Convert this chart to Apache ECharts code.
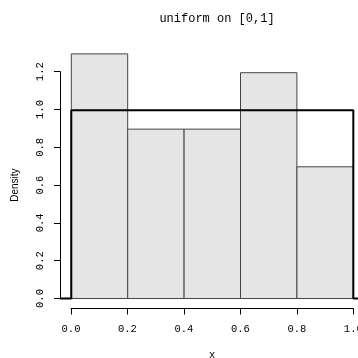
<!DOCTYPE html>
<html>
<head>
<meta charset="utf-8">
<script src="https://cdn.jsdelivr.net/npm/echarts@6/dist/echarts.min.js"></script>
<style>
  html, body { margin: 0; padding: 0; background: #fff; }
  #chart { width: 358px; height: 358px; }
</style>
</head>
<body>
<div id="chart"></div>
<script>
// Histogram bins of the sample (left edge, right edge, density)
const binStarts = [0.0, 0.2, 0.4, 0.6, 0.8];
const binEnds   = [0.2, 0.4, 0.6, 0.8, 1.0];
const densities = [1.3, 0.9, 0.9, 1.2, 0.7];

// Uniform(0,1) density curve, drawn as a step outline
const curveX = [-0.04, 0.0, 0.0, 1.0, 1.0, 1.04];
const curveY = [0, 0, 1, 1, 0, 0];

// Axis tick labels
const xTicks = ['0.0', '0.2', '0.4', '0.6', '0.8', '1.0'];
const yTicks = ['0.0', '0.2', '0.4', '0.6', '0.8', '1.0', '1.2'];

const mono = 'Liberation Mono, DejaVu Sans Mono, monospace';

const histData = binStarts.map((s, i) => [s, binEnds[i], densities[i]]);
const curveData = curveX.map((x, i) => [x, curveY[i]]);

const chart = echarts.init(document.getElementById('chart'), null, { renderer: 'canvas' });

chart.setOption({
  animation: false,
  backgroundColor: '#ffffff',
  title: {
    text: 'uniform on [0,1]',
    left: 212, top: 8, textAlign: 'center',
    textStyle: { fontFamily: mono, fontSize: 12, fontWeight: 'normal', color: '#000' }
  },
  grid: [
    // plotting region (extends past the right edge of the canvas)
    { left: 60, top: 44.1, width: 304.6, height: 264.2, outerBoundsMode: 'none', containLabel: false },
    // x axis, spanning the tick range only
    { left: 71, top: 44.1, width: 282.3, height: 264.4, outerBoundsMode: 'none', containLabel: false },
    // y axis, spanning the tick range only
    { left: 60, top: 71.7, width: 282.3, height: 226.8, outerBoundsMode: 'none', containLabel: false }
  ],
  xAxis: [
    { gridIndex: 0, type: 'value', min: -0.04, max: 1.04, show: false },
    {
      gridIndex: 1, type: 'value', min: 0, max: 1, interval: 0.2,
      name: 'x', nameLocation: 'middle', nameGap: 41,
      nameTextStyle: { fontFamily: mono, fontSize: 10.5, color: '#000' },
      axisLine: { show: true, lineStyle: { color: '#000', width: 1 } },
      axisTick: { show: true, length: 6, lineStyle: { color: '#000', width: 1 } },
      axisLabel: {
        margin: 15, fontFamily: mono, fontSize: 10.5, color: '#000',
        hideOverlap: false, showMaxLabel: true, showMinLabel: true,
        formatter: (v) => xTicks[Math.round(v / 0.2)] ?? ''
      },
      splitLine: { show: false }
    },
    { gridIndex: 2, type: 'value', min: 0, max: 1, show: false }
  ],
  yAxis: [
    { gridIndex: 0, type: 'value', min: -0.052, max: 1.352, show: false },
    { gridIndex: 1, type: 'value', min: 0, max: 1, show: false },
    {
      gridIndex: 2, type: 'value', min: 0, max: 1.2, interval: 0.2,
      name: 'Density', nameLocation: 'middle', nameGap: 40, nameRotate: 90,
      nameTextStyle: { fontFamily: 'Liberation Sans, Arial, sans-serif', fontSize: 10, color: '#000' },
      axisLine: { show: true, lineStyle: { color: '#000', width: 1 } },
      axisTick: { show: true, length: 6, lineStyle: { color: '#000', width: 1 } },
      axisLabel: {
        margin: 14, rotate: 90, fontFamily: mono, fontSize: 10.5, color: '#000',
        formatter: (v) => yTicks[Math.round(v / 0.2)] ?? ''
      },
      splitLine: { show: false }
    }
  ],
  series: [
    {
      type: 'custom',
      xAxisIndex: 0, yAxisIndex: 0,
      data: histData,
      renderItem: (params, api) => {
        const p0 = api.coord([api.value(0), 0]);
        const p1 = api.coord([api.value(1), api.value(2)]);
        return {
          type: 'rect',
          shape: { x: p0[0], y: p1[1], width: p1[0] - p0[0], height: p0[1] - p1[1] },
          style: { fill: '#e5e5e5', stroke: '#444', lineWidth: 1 }
        };
      }
    },
    {
      type: 'line',
      xAxisIndex: 0, yAxisIndex: 0,
      data: curveData,
      showSymbol: false,
      lineStyle: { color: '#000', width: 2 },
      z: 5
    }
  ]
});
</script>
</body>
</html>
